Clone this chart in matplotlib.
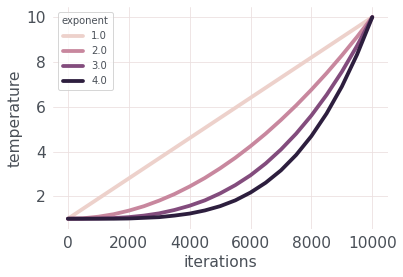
import matplotlib
matplotlib.use("Agg")
import matplotlib.pyplot as plt
import seaborn as sns

iterations = [0, 500, 1000, 1500, 2000, 2500, 3000, 3500, 4000, 4500, 5000,
              5500, 6000, 6500, 7000, 7500, 8000, 8500, 9000, 9500, 10000]
exponents = [1.0, 2.0, 3.0, 4.0]
temp_exp1 = [1, 1.45, 1.9, 2.35, 2.8, 3.25, 3.7, 4.15, 4.6, 5.05, 5.5,
             5.95, 6.4, 6.85, 7.3, 7.75, 8.2, 8.65, 9.1, 9.55, 10]
temp_exp2 = [1, 1.02, 1.09, 1.20, 1.36, 1.56, 1.81, 2.10, 2.44, 2.82, 3.25,
             3.72, 4.24, 4.80, 5.41, 6.06, 6.76, 7.50, 8.29, 9.12, 10]
temp_exp3 = [1, 1.00, 1.01, 1.03, 1.07, 1.14, 1.24, 1.39, 1.58, 1.82, 2.13,
             2.50, 2.94, 3.47, 4.09, 4.80, 5.61, 6.53, 7.56, 8.72, 10]
temp_exp4 = [1, 1.00, 1.00, 1.00, 1.01, 1.04, 1.07, 1.14, 1.23, 1.37, 1.56,
             1.82, 2.17, 2.61, 3.16, 3.85, 4.69, 5.70, 6.90, 8.33, 10]
temps = [temp_exp1, temp_exp2, temp_exp3, temp_exp4]

sns.set_style("whitegrid", {"grid.color": "#ebdfdf", "axes.edgecolor": "white",
                            "text.color": "#4a5058", "axes.labelcolor": "#4a5058",
                            "xtick.color": "#4a5058", "ytick.color": "#4a5058"})
plt.rcParams['font.family'] = ['DejaVu Sans']

colors = sns.cubehelix_palette(4)

fig, ax = plt.subplots(figsize=(6, 4), dpi=72)
for p, t, c in zip(exponents, temps, colors):
    ax.plot(iterations, t, color=c, lw=3.8, label=str(p))

ax.set_xlabel("iterations", fontsize=15.5)
ax.set_ylabel("temperature", fontsize=15.5)
ax.tick_params(labelsize=15.5)
ax.set_xticks([0, 2000, 4000, 6000, 8000, 10000])
ax.set_yticks([2, 4, 6, 8, 10])
for s in ax.spines.values():
    s.set_visible(False)
leg = ax.legend(title="exponent", fontsize=10, title_fontsize=10, loc="upper left")

plt.savefig("out.png", dpi=72, bbox_inches="tight")
